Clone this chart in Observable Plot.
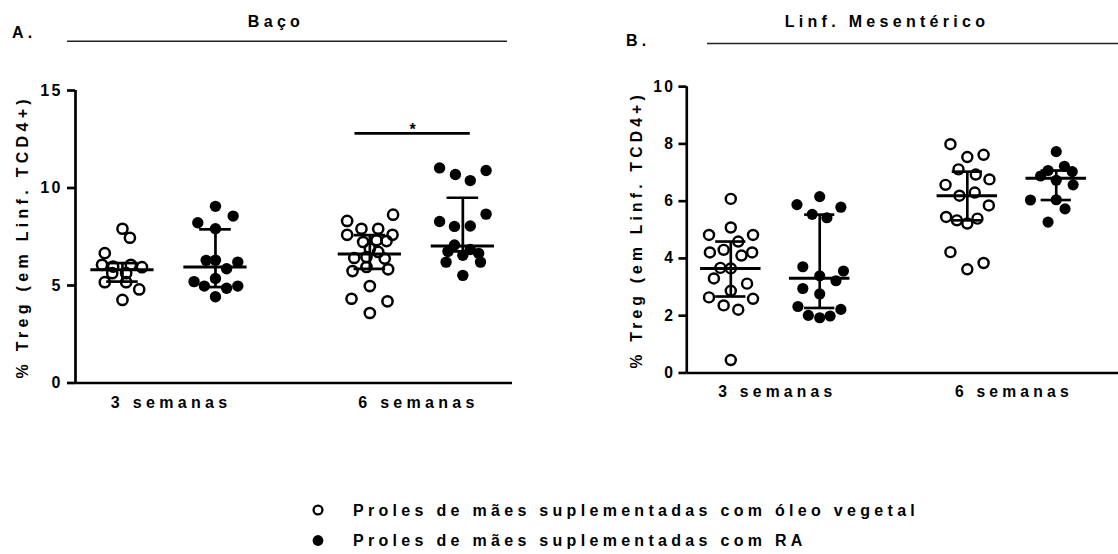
<!DOCTYPE html>
<html>
<head>
<meta charset="utf-8">
<script src="https://cdn.jsdelivr.net/npm/d3@7"></script>
<script src="https://cdn.jsdelivr.net/npm/@observablehq/plot@0.6"></script>
<style>
  html, body { margin: 0; padding: 0; background: #fff; overflow: hidden; width: 1118px; height: 554px; }
  #wrap { position: relative; width: 1118px; height: 554px; font-family: "Liberation Sans", Arial, sans-serif; font-weight: bold; color: #000; }
  .panel { position: absolute; top: 0; }
  .panel svg { overflow: visible; }
  g[aria-label="y-axis tick label"] { letter-spacing: 2.5px; }
  #overlay { position: absolute; left: 0; top: 0; pointer-events: none; }
  #overlay text { font-family: "Liberation Sans", Arial, sans-serif; font-weight: bold; font-size: 16px; letter-spacing: 4.3px; fill: #000; }
</style>
</head>
<body>
<div id="wrap">
  <div class="panel" id="pA" style="left:0px"></div>
  <div class="panel" id="pB" style="left:560px"></div>
  <svg id="overlay" width="1118" height="554"></svg>
</div>
<script>
// ---------- data ----------
const weeks = ["3 semanas", "6 semanas"];
const seriesNames = ["Proles de mães suplementadas com óleo vegetal", "Proles de mães suplementadas com RA"];
const panelTitles = ["Baço", "Linf. Mesentérico"];
const panelLetters = ["A.", "B."];
const yLabel = "% Treg (em Linf. TCD4+)";
// group order: 3 sem óleo, 3 sem RA, 6 sem óleo, 6 sem RA
const slots = [0, 1, 2.66, 3.66];

// Baço
const bacoOleo3 = [7.91, 7.45, 6.66, 6.06, 5.97, 6.06, 5.94, 5.63, 5.63, 5.17, 5.17, 4.80, 4.26];
const bacoOleo3Jit = [0, 0.08, -0.19, -0.22, -0.10, 0.09, 0.21, -0.11, 0.04, -0.19, 0.04, 0.18, 0];
const bacoRA3 = [9.06, 8.22, 8.56, 7.91, 6.29, 6.30, 6.20, 5.86, 5.20, 4.97, 5.36, 4.86, 4.97, 4.42];
const bacoRA3Jit = [0, -0.19, 0.19, 0, -0.10, 0, 0.24, 0.12, -0.23, -0.12, 0, 0.12, 0.24, 0];
const bacoOleo6 = [8.63, 8.31, 7.91, 7.91, 7.60, 7.60, 7.23, 7.32, 7.28, 6.89, 6.72, 6.41, 6.46, 6.38, 5.74, 5.95, 5.83, 4.97, 4.32, 4.19, 3.59];
const bacoOleo6Jit = [0.25, -0.244, -0.09, 0.09, -0.244, 0.244, -0.072, 0.072, 0.18, 0, 0.09, -0.168, -0.036, 0.16, -0.186, -0.036, 0.197, 0, -0.197, 0.19, 0];
const bacoRA6 = [11.03, 10.69, 10.90, 10.38, 8.28, 8.66, 8.03, 8.05, 7.08, 6.85, 6.75, 6.55, 6.65, 6.20, 6.20, 5.52];
const bacoRA6Jit = [-0.25, -0.08, 0.25, 0.08, -0.25, 0.25, -0.09, 0.08, -0.09, 0.08, -0.16, 0, 0.17, -0.18, 0.19, 0];
const bacoMedian = [5.81, 5.95, 6.62, 7.03];
const bacoQ1 = [5.20, 4.92, 5.85, 6.75];
const bacoQ3 = [6.15, 7.88, 7.58, 9.50];
const bacoSig = [{from: 2, to: 3, y: 12.8, label: "*"}];

// Linf. Mesentérico
const linfOleo3 = [6.08, 5.08, 4.82, 4.82, 4.59, 4.21, 4.30, 4.10, 4.21, 3.67, 3.65, 3.30, 3.12, 2.87, 2.64, 2.59, 2.36, 2.21, 0.45];
const linfOleo3Jit = [0, 0, -0.245, 0.25, 0.084, -0.235, -0.08, 0.12, 0.24, -0.117, 0, -0.19, 0.183, 0, -0.245, 0.25, -0.08, 0.084, 0];
const linfRA3 = [6.16, 5.88, 5.79, 5.54, 5.42, 3.71, 3.56, 3.39, 3.22, 2.95, 2.76, 2.32, 2.22, 2.01, 1.93, 1.99];
const linfRA3Jit = [0, -0.256, 0.238, -0.084, 0.081, -0.19, 0.267, 0, 0.183, -0.19, 0, -0.245, 0.238, -0.128, 0, 0.117];
const linfOleo6 = [7.99, 7.54, 7.62, 7.11, 6.93, 6.76, 6.57, 6.30, 6.19, 5.85, 5.45, 5.33, 5.39, 5.22, 4.22, 3.84, 3.62];
const linfOleo6Jit = [-0.19, 0, 0.183, -0.099, 0.095, 0.249, -0.245, 0.084, -0.088, 0.242, -0.238, -0.117, 0.114, 0, -0.19, 0.183, 0];
const linfRA6 = [7.73, 7.07, 7.22, 7.03, 6.88, 6.73, 6.57, 6.04, 6.05, 5.73, 5.27];
const linfRA6Jit = [0, -0.092, 0.092, 0.18, -0.176, 0, 0.19, -0.29, 0, 0.099, -0.092];
const linfMedian = [3.65, 3.31, 6.19, 6.80];
const linfQ1 = [2.67, 2.27, 5.33, 6.04];
const linfQ3 = [4.59, 5.53, 7.03, 7.07];
const linfSig = [];

const bacoTicks = [0, 5, 10, 15];
const linfTicks = [0, 2, 4, 6, 8, 10];

// ---------- drawing ----------
const MED_HALF = 0.34, CAP_HALF = 0.17, LW = 2.7, FS = 16, TRAIL = 2.15;

function panel(cfg) {
  const pts = [];
  cfg.values.forEach((vals, g) => vals.forEach((v, i) =>
    pts.push({x: slots[g] + cfg.jitter[g][i], y: v, filled: g % 2 === 1})));
  const stats = slots.map((s, g) => ({slot: s, med: cfg.median[g], lo: cfg.q1[g], hi: cfg.q3[g]}));
  const sig = cfg.sig.map(d => ({...d, x1: slots[d.from] - 0.16, x2: slots[d.to] + 0.08, xm: (slots[d.from] - 0.16 + slots[d.to] + 0.08) / 2}));
  return Plot.plot({
    width: cfg.width, height: cfg.height,
    marginLeft: cfg.ml, marginRight: cfg.mr, marginTop: cfg.mt, marginBottom: cfg.mb,
    x: {domain: cfg.xDomain, axis: null},
    y: {domain: [0, cfg.yMax], axis: null},
    style: {fontFamily: "Liberation Sans, Arial, sans-serif", fontWeight: "bold", fontSize: FS + "px", letterSpacing: "4.3px", color: "#000", background: "transparent", overflow: "visible"},
    marks: [
      Plot.dot(pts.filter(d => !d.filled), {x: "x", y: "y", r: 5.1, stroke: "#000", strokeWidth: 2.5, fill: "none"}),
      Plot.dot(pts.filter(d => d.filled), {x: "x", y: "y", r: 5.7, fill: "#000", stroke: "none"}),
      Plot.ruleX(stats, {x: "slot", y1: "lo", y2: "hi", stroke: "#000", strokeWidth: LW}),
      Plot.ruleY(stats, {y: "hi", x1: d => d.slot - CAP_HALF, x2: d => d.slot + CAP_HALF, stroke: "#000", strokeWidth: LW}),
      Plot.ruleY(stats, {y: "lo", x1: d => d.slot - CAP_HALF, x2: d => d.slot + CAP_HALF, stroke: "#000", strokeWidth: LW}),
      Plot.ruleY(stats, {y: "med", x1: d => d.slot - MED_HALF, x2: d => d.slot + MED_HALF, stroke: "#000", strokeWidth: 3}),
      Plot.ruleY(sig, {y: "y", x1: "x1", x2: "x2", stroke: "#000", strokeWidth: LW}),
      Plot.text(sig, {x: "xm", y: "y", text: "label", dy: -4, dx: TRAIL, fontSize: FS}),
      Plot.ruleY([0], {stroke: "#000", strokeWidth: LW}),
      Plot.ruleX([cfg.xDomain[0]], {y1: 0, y2: cfg.yMax, stroke: "#000", strokeWidth: LW}),
      Plot.axisY({ticks: cfg.yTicks, tickSize: 8, tickPadding: cfg.tickPad, strokeWidth: LW, label: null, fontSize: FS}),
      Plot.text(weeks, {x: (d, i) => (slots[2 * i] + slots[2 * i + 1]) / 2, frameAnchor: "bottom", textAnchor: "middle", dy: cfg.weekDy, dx: TRAIL, fontSize: FS}),
      Plot.text([yLabel], {frameAnchor: "left", textAnchor: "middle", rotate: -90, dx: cfg.labelDx, fontSize: FS})
    ]
  });
}

document.getElementById("pA").append(panel({
  values: [bacoOleo3, bacoRA3, bacoOleo6, bacoRA6],
  jitter: [bacoOleo3Jit, bacoRA3Jit, bacoOleo6Jit, bacoRA6Jit],
  median: bacoMedian, q1: bacoQ1, q3: bacoQ3, sig: bacoSig,
  yMax: 15, yTicks: bacoTicks,
  width: 540, height: 430, ml: 75, mr: 28, mt: 90, mb: 47.5,
  xDomain: [-0.505, 4.194], tickPad: 4.5, weekDy: 25.4, labelDx: -53.1
}));

document.getElementById("pB").append(panel({
  values: [linfOleo3, linfRA3, linfOleo6, linfRA6],
  jitter: [linfOleo3Jit, linfRA3Jit, linfOleo6Jit, linfRA6Jit],
  median: linfMedian, q1: linfQ1, q3: linfQ3, sig: linfSig,
  yMax: 10, yTicks: linfTicks,
  width: 570, height: 430, ml: 129, mr: 0, mt: 88, mb: 49.5,
  xDomain: [-0.495, 4.36], tickPad: 3.5, weekDy: 24.4, labelDx: -51.1
}));

// headers and legend
const ov = d3.select("#overlay");
const headers = [
  {letter: panelLetters[0], lx: 12, ly: 38, title: panelTitles[0], tx: 276, ty: 26.5, x1: 67, x2: 507, y: 41.3},
  {letter: panelLetters[1], lx: 626, ly: 46, title: panelTitles[1], tx: 887, ty: 26.5, x1: 707, x2: 1118, y: 43.5}
];
headers.forEach(h => {
  ov.append("text").attr("x", h.lx).attr("y", h.ly).text(h.letter);
  ov.append("text").attr("x", h.tx).attr("y", h.ty).attr("text-anchor", "middle").text(h.title);
  ov.append("line").attr("x1", h.x1).attr("x2", h.x2).attr("y1", h.y).attr("y2", h.y)
    .attr("stroke", "#222").attr("stroke-width", 1.6);
});
seriesNames.forEach((name, i) => {
  const cy = 510 + i * 30.5;
  if (i === 0) ov.append("circle").attr("cx", 318).attr("cy", cy).attr("r", 4.4).attr("fill", "none").attr("stroke", "#000").attr("stroke-width", 2.3);
  else ov.append("circle").attr("cx", 318).attr("cy", cy).attr("r", 5.4).attr("fill", "#000");
  ov.append("text").attr("x", 353).attr("y", cy + 5.6).text(name);
});
</script>
</body>
</html>
